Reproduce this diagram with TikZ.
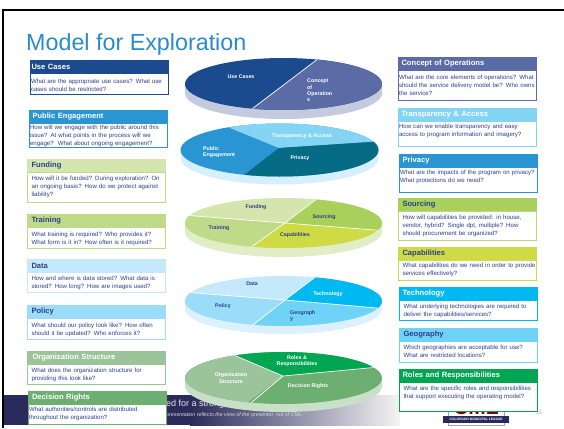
\documentclass[tikz,border=0pt]{standalone}
\usepackage{fontspec}
\setmainfont{Liberation Sans}
\usetikzlibrary{positioning}
\definecolor{navyText}{HTML}{2D3E8C}
\definecolor{navyBand}{HTML}{2A2A5C}
\definecolor{titleBlue}{HTML}{2A8BCB}
\definecolor{useBlue}{HTML}{1B4A8E}
\definecolor{conceptBlue}{HTML}{5A6BA5}
\definecolor{publicBlue}{HTML}{2A95D3}
\definecolor{transBlue}{HTML}{84D4F3}
\definecolor{privacyTeal}{HTML}{066B85}
\definecolor{fundGreen}{HTML}{D4E5AD}
\definecolor{trainGreen}{HTML}{BFDB8A}
\definecolor{sourceGreen}{HTML}{A8D05A}
\definecolor{capGreen}{HTML}{CFDB44}
\definecolor{dataBlue}{HTML}{C5E8FB}
\definecolor{policyBlue}{HTML}{9BDDF8}
\definecolor{geoBlue}{HTML}{6FD3F7}
\definecolor{techBlue}{HTML}{00B9F0}
\definecolor{orgGreen}{HTML}{9CC49B}
\definecolor{decGreen}{HTML}{6CAF71}
\definecolor{rolesGreen}{HTML}{00A651}

\begin{document}
\begin{tikzpicture}[x=1pt,y=-1pt,
        cardHead/.style = {anchor=north west,fill=#1,draw=#1,line width=0.7pt,minimum height=13pt,inner ysep=0pt,outer sep=0pt,align=left,font=\fontsize{7.6}{8}\selectfont\bfseries},
        lightHead/.style = {cardHead=#1,text=navyText,text width=129pt,inner xsep=4.5pt},
        darkHead/.style = {cardHead=#1,text=white,text width=131pt,inner xsep=3.5pt},
        cardBody/.style = {draw=#1,fill=white,line width=0.7pt,text=navyText,text width=136pt,inner xsep=1pt,inner ysep=0.5pt,outer sep=0pt,align=left,font=\fontsize{6.1}{8}\selectfont},
        indentBody/.style = {cardBody=#1,text width=129pt,inner xsep=4.5pt},
        pieLabel/.style = {font=\fontsize{5.3}{6.3}\selectfont\bfseries,inner sep=0pt,align=center},
        pieSplit/.style = {draw=white,line width=0.7pt}
        ]
    \useasboundingbox (0,0) rectangle (564,428);

    % slide frame and footer
    \fill[black] (2,9) rectangle (564,11);
    \fill[black] (2,9) rectangle (4,428);
    \fill[navyBand] (4,395) rectangle (190,425);
    \shade[left color=navyBand,right color=black!4] (190,395) rectangle (400,425);
    \node[anchor=west,inner sep=0pt,text=white!90!black,font=\fontsize{9}{10}\selectfont] (footLine) at (166,404) {ed for a strong};
    \node[anchor=west,inner sep=0pt,text=white!85!black,font=\fontsize{5.3}{6}\selectfont\itshape] (footNote) at (166,415) {presentation reflects the view of the presenter, not of CML.};

    % logo
    \node[anchor=north west,draw=black!35,fill=white,minimum width=56pt,minimum height=22pt,inner sep=0pt,outer sep=0pt] (logoBox) at (448,403) {};
    \node[inner sep=0pt,text=red!50!black,font=\fontsize{21}{21}\selectfont\bfseries] (logoText) at (476,407) {CML};
    \node[anchor=north west,fill=navyBand,minimum width=66pt,minimum height=6.5pt,inner sep=0pt,text=white,font=\fontsize{3.3}{4}\selectfont\bfseries] (logoBar) at (443,416) {COLORADO MUNICIPAL LEAGUE};
    \node[inner sep=0pt,text=black!35,font=\fontsize{5}{6}\selectfont] (pageNum) at (539,413) {15};

    \node[anchor=west,inner sep=0pt,text=titleBlue,font=\fontsize{23.3}{26}\selectfont] (title) at (26,44) {Model for Exploration};

    % pie 1
    \fill[conceptBlue!35] (185,84) rectangle (382,93) (283.5,93) ellipse [x radius=98.5pt,y radius=26pt];
    \begin{scope}
        \clip (283.5,84) ellipse [x radius=98.5pt,y radius=26pt];
        \fill[useBlue] (180,50) rectangle (390,120);
        \fill[conceptBlue] (331,49) -- (240,118) -- (390,120) -- (390,49) -- cycle;
        \draw[pieSplit] (331,49) -- (240,118);
    \end{scope}
    \node[pieLabel,text=white] (pieUse) at (241,77) {Use Cases};
    \node[pieLabel,text=white,align=left,anchor=north west] (pieConcept) at (307,79) {Concept\\of\\Operation\\s};

    % pie 2
    \fill[dataBlue!70] (181,150) rectangle (378,158) (279.5,158) ellipse [x radius=99pt,y radius=26.5pt];
    \begin{scope}
        \clip (279.5,150) ellipse [x radius=99pt,y radius=26.5pt];
        \fill[publicBlue] (175,120) rectangle (385,180);
        \fill[transBlue] (279,148) -- (230,128) -- (225,120) -- (385,120) -- (385,141) -- (370,142) -- cycle;
        \fill[privacyTeal] (279,148) -- (370,142) -- (385,141) -- (385,180) -- (240,180) -- (244,175) -- cycle;
    \end{scope}
    \node[pieLabel,text=white] (pieTrans) at (302,136) {Transparency \& Access};
    \node[pieLabel,text=white,align=left,anchor=west] (piePublic) at (203,152) {Public\\Engagement};
    \node[pieLabel,text=white] (piePrivacy) at (300,158) {Privacy};

    % pie 3
    \fill[fundGreen!70] (185,223) rectangle (382,232) (283.5,232) ellipse [x radius=98.5pt,y radius=25pt];
    \begin{scope}
        \clip (283.5,223) ellipse [x radius=98.5pt,y radius=25pt];
        \fill[fundGreen] (180,190) rectangle (390,255);
        \fill[trainGreen] (285,223) -- (170,214) -- (170,262) -- (236,258) -- cycle;
        \fill[capGreen] (285,223) -- (236,258) -- (400,258) -- (400,232) -- cycle;
        \fill[sourceGreen] (285,223) -- (400,232) -- (400,189) -- (330,189) -- cycle;
        \draw[pieSplit] (170,214) -- (285,223) -- (400,232) (330,189) -- (285,223) -- (236,258);
    \end{scope}
    \node[pieLabel,text=navyText] (pieFund) at (256,207) {Funding};
    \node[pieLabel,text=navyText] (pieSource) at (324,217) {Sourcing};
    \node[pieLabel,text=navyText] (pieTrain) at (219,228) {Training};
    \node[pieLabel,text=navyText] (pieCap) at (295,235) {Capabilities};

    % pie 4
    \fill[dataBlue!60] (185,301) rectangle (382,309) (283.5,309) ellipse [x radius=98.5pt,y radius=25pt];
    \begin{scope}
        \clip (283.5,301) ellipse [x radius=98.5pt,y radius=25pt];
        \fill[dataBlue] (180,270) rectangle (390,335);
        \fill[policyBlue] (285,300) -- (170,291) -- (170,340) -- (236,338) -- cycle;
        \fill[geoBlue] (285,300) -- (236,338) -- (400,338) -- (400,310) -- cycle;
        \fill[techBlue] (285,300) -- (400,310) -- (400,266) -- (330,266) -- cycle;
        \draw[pieSplit] (170,291) -- (285,300) -- (400,310) (330,266) -- (285,300) -- (236,338);
    \end{scope}
    \node[pieLabel,text=navyText] (pieData) at (252,284) {Data};
    \node[pieLabel,text=white] (pieTech) at (328,294) {Technology};
    \node[pieLabel,text=navyText] (piePolicy) at (223,306) {Policy};
    \node[pieLabel,text=navyText,align=left,anchor=north west] (pieGeo) at (290,310) {Geograph\\y};

    % pie 5
    \fill[orgGreen!55] (185,378) rectangle (382,386) (283.5,386) ellipse [x radius=98.5pt,y radius=26pt];
    \begin{scope}
        \clip (283.5,378) ellipse [x radius=98.5pt,y radius=26pt];
        \fill[decGreen] (180,345) rectangle (390,410);
        \fill[orgGreen] (283,376) -- (236,356) -- (225,345) -- (180,345) -- (180,410) -- (240,412) -- (248,402) -- cycle;
        \fill[rolesGreen] (283,376) -- (236,356) -- (215,347) -- (390,345) -- (390,366) -- (373,368) -- cycle;
        \draw[pieSplit] (215,347) -- (283,376) -- (390,366) (283,376) -- (240,412);
    \end{scope}
    \node[pieLabel,text=white] (pieRoles) at (297,361) {Roles \&\\Responsibilities};
    \node[pieLabel,text=white] (pieOrg) at (231,378) {Organization\\Structure};
    \node[pieLabel,text=white] (pieDec) at (308,386) {Decision Rights};

    % left cards
    \node[darkHead=useBlue,text width=135pt,inner xsep=1.5pt] (useHead) at (30,60) {Use Cases};
    \node[cardBody=useBlue,minimum height=21pt,below=0pt of useHead] (useBody) {\rule{0pt}{8.4pt}What are the appropriate use cases? What use\\cases should be restricted?};
    \node[darkHead=publicBlue] (publicHead) at (29,110) {Public Engagement};
    \node[cardBody=publicBlue,minimum height=24pt,below=0pt of publicHead] (publicBody) {\rule{0pt}{6.2pt}How will we engage with the public around this\\issue? At what points in the process will we\\engage?~~What about ongoing engagement?};
    \node[lightHead=fundGreen] (fundHead) at (27,159) {Funding};
    \node[indentBody=trainGreen,minimum height=30pt,below=0pt of fundHead] (fundBody) {How will it be funded? During exploration? On\\an ongoing basis? How do we protect against\\liability?};
    \node[lightHead=trainGreen] (trainHead) at (27,214) {Training};
    \node[indentBody=trainGreen,minimum height=21pt,below=0pt of trainHead] (trainBody) {\rule{0pt}{6.4pt}What training is required? Who provides it?\\What form is it in? How often is it required?};
    \node[lightHead=dataBlue] (dataHead) at (27,259) {Data};
    \node[indentBody=dataBlue,minimum height=20pt,below=0pt of dataHead] (dataBody) {\rule{0pt}{6.4pt}How and where is data stored? What data is\\stored? How long? How are images used?};
    \node[lightHead=policyBlue] (policyHead) at (27,305) {Policy};
    \node[indentBody=policyBlue,minimum height=21pt,below=0pt of policyHead] (policyBody) {\rule{0pt}{6.4pt}What should our policy look like? How often\\should it be updated? Who enforces it?};
    \node[darkHead=orgGreen,text width=127pt,inner xsep=5.5pt] (orgHead) at (27,351) {Organization Structure};
    \node[indentBody=orgGreen,minimum height=20pt,below=0pt of orgHead] (orgBody) {\rule{0pt}{6.4pt}What does the organization structure for\\providing this look like?};
    \node[darkHead=decGreen,text width=130pt,inner xsep=4pt] (decHead) at (28,391) {Decision Rights};
    \node[cardBody=decGreen,minimum height=20pt,below=0pt of decHead] (decBody) {What authorities/controls are distributed\\throughout the organization?};

    % right cards
    \node[darkHead=conceptBlue] (conceptHead) at (398,57) {Concept of Operations};
    \node[cardBody=conceptBlue,minimum height=30pt,below=0pt of conceptHead] (conceptBody) {\mbox{What are the core elements of operations? What}\\should the service delivery model be? Who owns\\the service?};
    \node[darkHead=transBlue] (transHead) at (398,108) {Transparency \& Access};
    \node[cardBody=transBlue,minimum height=25pt,below=0pt of transHead] (transBody) {\rule{0pt}{6.4pt}How can we enable transparency and easy\\access to program information and imagery?\\\mbox{}};
    \node[darkHead=publicBlue] (privacyHead) at (399,154) {Privacy};
    \node[cardBody=publicBlue,minimum height=25pt,below=0pt of privacyHead] (privacyBody) {\rule{0pt}{6.4pt}\mbox{What are the impacts of the program on privacy?}\\What protections do we need?\\\mbox{}};
    \node[lightHead=sourceGreen] (sourceHead) at (398,198) {Sourcing};
    \node[indentBody=sourceGreen!80,minimum height=29pt,below=0pt of sourceHead] (sourceBody) {How will capabilities be provided: in house,\\vendor, hybrid? Single dpt, multiple? How\\should procurement be organized?};
    \node[lightHead=capGreen] (capHead) at (398,247) {Capabilities};
    \node[indentBody=capGreen,minimum height=20pt,below=0pt of capHead] (capBody) {\mbox{What capabilities do we need in order to provide}\\services effectively?};
    \node[darkHead=techBlue] (techHead) at (399,287) {Technology};
    \node[indentBody=techBlue,minimum height=20pt,below=0pt of techHead] (techBody) {\rule{0pt}{6.4pt}What underlying technologies are required to\\deliver the capabilities/services?};
    \node[lightHead=geoBlue] (geoHead) at (399,328) {Geography};
    \node[indentBody=geoBlue,minimum height=21pt,below=0pt of geoHead] (geoBody) {Which geographies are acceptable for use?\\What are restricted locations?};
    \node[darkHead=rolesGreen] (rolesHead) at (399,369) {Roles and Responsibilities};
    \node[indentBody=rolesGreen,minimum height=29pt,below=0pt of rolesHead] (rolesBody) {\mbox{What are the specific roles and responsibilities}\\that support executing the operating model?\\\mbox{}};
\end{tikzpicture}
\end{document}
